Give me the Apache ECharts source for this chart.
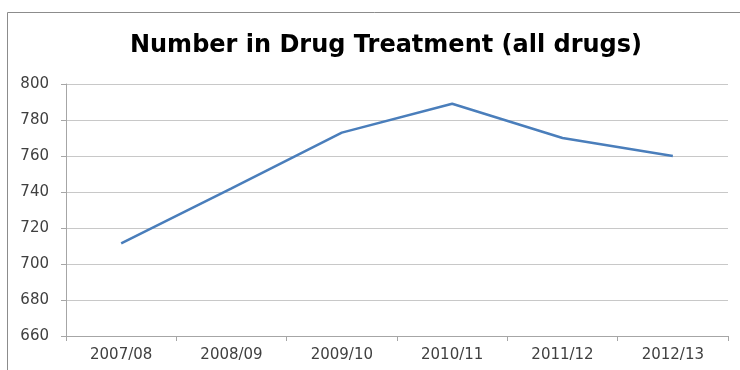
<!DOCTYPE html>
<html>
<head>
<meta charset="utf-8">
<script src="https://cdn.jsdelivr.net/npm/echarts@6/dist/echarts.min.js"></script>
<style>
  html, body { margin: 0; padding: 0; background: #fff; }
  #chart { width: 740px; height: 370px; }
</style>
</head>
<body>
<div id="chart"></div>
<script>
// Financial years on the category axis
const years = ['2007/08', '2008/09', '2009/10', '2010/11', '2011/12', '2012/13'];
// Number in drug treatment (all drugs)
const treatment = [711.5, 742, 773, 789, 770, 760];

const chart = echarts.init(document.getElementById('chart'));
chart.setOption({
  animation: false,
  backgroundColor: '#fff',
  title: {
    text: 'Number in Drug Treatment (all drugs)',
    left: 381,
    textAlign: 'center',
    top: 29,
    textStyle: { fontFamily: 'DejaVu Sans', fontWeight: 'bold', fontSize: 24, color: '#000' }
  },
  graphic: [{
    type: 'rect',
    shape: { x: 7.5, y: 12.5, width: 800, height: 400 },
    style: { fill: 'none', stroke: '#8c8c8c', lineWidth: 1 },
    silent: true
  }],
  grid: { left: 66, right: 12, top: 84, bottom: 34 },
  xAxis: {
    type: 'category',
    data: years,
    boundaryGap: true,
    axisLine: { lineStyle: { color: '#a6a6a6' } },
    axisTick: { show: true, length: 5, lineStyle: { color: '#a6a6a6' } },
    axisLabel: { color: '#404040', fontFamily: 'DejaVu Sans', fontSize: 15, margin: 12 }
  },
  yAxis: {
    type: 'value',
    min: 660,
    max: 800,
    interval: 20,
    axisLine: { show: true, lineStyle: { color: '#a6a6a6' } },
    axisTick: { show: true, length: 5, lineStyle: { color: '#a6a6a6' } },
    splitLine: { lineStyle: { color: '#c8c8c8' } },
    axisLabel: { color: '#404040', fontFamily: 'DejaVu Sans', fontSize: 15, margin: 17 }
  },
  series: [{
    type: 'line',
    data: treatment,
    symbol: 'none',
    lineStyle: { color: '#4a7ebb', width: 2.5 }
  }]
});
</script>
</body>
</html>
